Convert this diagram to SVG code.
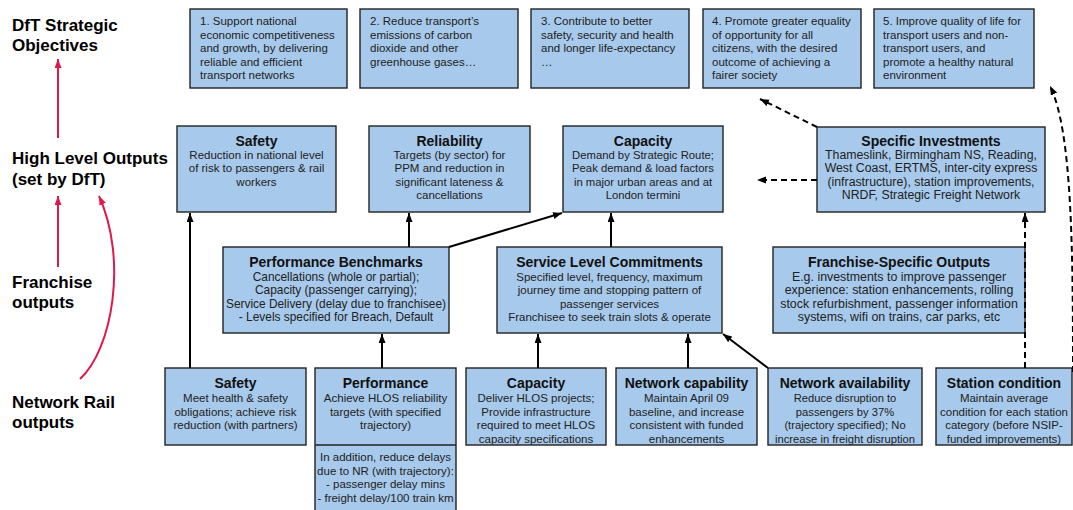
<svg xmlns="http://www.w3.org/2000/svg" width="1073" height="510" viewBox="0 0 1073 510">
  <style>
    .box { fill: #a7c9eb; stroke: #222; stroke-width: 1.4; }
    .lbl { font-family: "Liberation Sans", Arial, sans-serif; font-weight: bold; font-size: 17px; fill: #000; }
    .ttl { font-family: "Liberation Sans", Arial, sans-serif; font-weight: bold; font-size: 14px; fill: #111; text-anchor: middle; }
    .txt { font-family: "Liberation Sans", Arial, sans-serif; font-size: 11.5px; fill: #222; text-anchor: middle; }
    .obj { font-family: "Liberation Sans", Arial, sans-serif; font-size: 11.5px; fill: #222; }
    .con { fill: none; stroke: #000; stroke-width: 2; }
    .dash { fill: none; stroke: #000; stroke-width: 2; stroke-dasharray: 6 4; }
    .red { fill: none; stroke: #e2184c; stroke-width: 2; }
  </style>
  <defs>
    <marker id="ah" markerUnits="userSpaceOnUse" markerWidth="10" markerHeight="8" refX="9" refY="3.5" orient="auto">
      <path d="M0,0 L9,3.5 L0,7 z" fill="#000"/>
    </marker>
    <marker id="ahr" markerUnits="userSpaceOnUse" markerWidth="10" markerHeight="8" refX="9" refY="3.5" orient="auto">
      <path d="M0,0 L9,3.5 L0,7 z" fill="#e2184c"/>
    </marker>
  </defs>

  <rect width="1073" height="510" fill="#fff"/>

  <!-- tier labels -->
  <g id="tier-labels">
    <text class="lbl" x="12" y="31">DfT Strategic</text>
    <text class="lbl" x="12" y="51">Objectives</text>
    <text class="lbl" x="12" y="164">High Level Outputs</text>
    <text class="lbl" x="12" y="185">(set by DfT)</text>
    <text class="lbl" x="12" y="288">Franchise</text>
    <text class="lbl" x="12" y="308">outputs</text>
    <text class="lbl" x="12" y="408">Network Rail</text>
    <text class="lbl" x="12" y="428">outputs</text>
  </g>

  <!-- strategic objectives -->
  <g id="obj1">
    <rect class="box" x="190" y="9" width="157" height="79"/>
    <text class="obj" x="200" y="25">1. Support national</text>
    <text class="obj" x="200" y="38.5">economic competitiveness</text>
    <text class="obj" x="200" y="52">and growth, by delivering</text>
    <text class="obj" x="200" y="65.5">reliable and efficient</text>
    <text class="obj" x="200" y="79">transport networks</text>
  </g>
  <g id="obj2">
    <rect class="box" x="360" y="9" width="158" height="79"/>
    <text class="obj" x="370" y="25">2. Reduce transport’s</text>
    <text class="obj" x="370" y="38.5">emissions of carbon</text>
    <text class="obj" x="370" y="52">dioxide and other</text>
    <text class="obj" x="370" y="65.5">greenhouse gases…</text>
  </g>
  <g id="obj3">
    <rect class="box" x="531" y="9" width="158" height="79"/>
    <text class="obj" x="541" y="25">3. Contribute to better</text>
    <text class="obj" x="541" y="38.5">safety, security and health</text>
    <text class="obj" x="541" y="52">and longer life-expectancy</text>
    <text class="obj" x="541" y="65.5">…</text>
  </g>
  <g id="obj4">
    <rect class="box" x="703" y="9" width="158" height="79"/>
    <text class="obj" x="712" y="25">4. Promote greater equality</text>
    <text class="obj" x="712" y="38.5">of opportunity for all</text>
    <text class="obj" x="712" y="52">citizens, with the desired</text>
    <text class="obj" x="712" y="65.5">outcome of achieving a</text>
    <text class="obj" x="712" y="79">fairer society</text>
  </g>
  <g id="obj5">
    <rect class="box" x="874" y="9" width="160" height="79"/>
    <text class="obj" x="883" y="25">5. Improve quality of life for</text>
    <text class="obj" x="883" y="38.5">transport users and non-</text>
    <text class="obj" x="883" y="52">transport users, and</text>
    <text class="obj" x="883" y="65.5">promote a healthy natural</text>
    <text class="obj" x="883" y="79">environment</text>
  </g>

  <!-- high level outputs -->
  <g id="hl-safety">
    <rect class="box" x="177" y="126" width="159" height="86"/>
    <text class="ttl" x="256.5" y="145.5">Safety</text>
    <text class="txt" x="256.5" y="158.5">Reduction in national level</text>
    <text class="txt" x="256.5" y="172">of risk to passengers &amp; rail</text>
    <text class="txt" x="256.5" y="185.5">workers</text>
  </g>
  <g id="hl-reliability">
    <rect class="box" x="369" y="126" width="161" height="86"/>
    <text class="ttl" x="449.5" y="145.5">Reliability</text>
    <text class="txt" x="449.5" y="158.5">Targets (by sector) for</text>
    <text class="txt" x="449.5" y="172">PPM and reduction in</text>
    <text class="txt" x="449.5" y="185.5">significant lateness &amp;</text>
    <text class="txt" x="449.5" y="199">cancellations</text>
  </g>
  <g id="hl-capacity">
    <rect class="box" x="563" y="126" width="160" height="86"/>
    <text class="ttl" x="643" y="145.5">Capacity</text>
    <text class="txt" x="643" y="158.5" style="font-size:11.3px">Demand by Strategic Route;</text>
    <text class="txt" x="643" y="172" style="font-size:11.3px">Peak demand &amp; load factors</text>
    <text class="txt" x="643" y="185.5" style="font-size:11.3px">in major urban areas and at</text>
    <text class="txt" x="643" y="199" style="font-size:11.3px">London termini</text>
  </g>
  <g id="hl-investments">
    <rect class="box" x="817" y="127" width="228" height="85"/>
    <text class="ttl" x="931" y="145.5">Specific Investments</text>
    <text class="txt" x="931" y="158.5" style="font-size:12.3px">Thameslink, Birmingham NS, Reading,</text>
    <text class="txt" x="931" y="172" style="font-size:12.3px">West Coast, ERTMS, inter-city express</text>
    <text class="txt" x="931" y="185.5" style="font-size:12.3px">(infrastructure), station improvements,</text>
    <text class="txt" x="931" y="199" style="font-size:12.3px">NRDF, Strategic Freight Network</text>
  </g>

  <!-- franchise outputs -->
  <g id="fr-benchmarks">
    <rect class="box" x="223" y="247" width="226" height="86"/>
    <text class="ttl" x="336" y="267">Performance Benchmarks</text>
    <text class="txt" x="336" y="280.5" style="font-size:11.9px">Cancellations (whole or partial);</text>
    <text class="txt" x="336" y="294" style="font-size:11.9px">Capacity (passenger carrying);</text>
    <text class="txt" x="336" y="307.5" style="font-size:11.9px">Service Delivery (delay due to franchisee)</text>
    <text class="txt" x="336" y="321" style="font-size:11.9px">- Levels specified for Breach, Default</text>
  </g>
  <g id="fr-slc">
    <rect class="box" x="497" y="247" width="225" height="86"/>
    <text class="ttl" x="609.5" y="267">Service Level Commitments</text>
    <text class="txt" x="609.5" y="280.5">Specified level, frequency, maximum</text>
    <text class="txt" x="609.5" y="294">journey time and stopping pattern of</text>
    <text class="txt" x="609.5" y="307.5">passenger services</text>
    <text class="txt" x="609.5" y="321">Franchisee to seek train slots &amp; operate</text>
  </g>
  <g id="fr-specific">
    <rect class="box" x="773" y="247" width="252" height="86"/>
    <text class="ttl" x="899" y="267">Franchise-Specific Outputs</text>
    <text class="txt" x="899" y="280.5" style="font-size:12.4px">E.g. investments to improve passenger</text>
    <text class="txt" x="899" y="294" style="font-size:12.4px">experience: station enhancements, rolling</text>
    <text class="txt" x="899" y="307.5" style="font-size:12.4px">stock refurbishment, passenger information</text>
    <text class="txt" x="899" y="321" style="font-size:12.4px">systems, wifi on trains, car parks, etc</text>
  </g>

  <!-- network rail outputs -->
  <g id="nr-safety">
    <rect class="box" x="165" y="368" width="141" height="77"/>
    <text class="ttl" x="235.5" y="388">Safety</text>
    <text class="txt" x="235.5" y="402">Meet health &amp; safety</text>
    <text class="txt" x="235.5" y="415.5">obligations; achieve risk</text>
    <text class="txt" x="235.5" y="429">reduction (with partners)</text>
  </g>
  <g id="nr-performance">
    <rect class="box" x="315" y="368" width="141" height="150"/>
    <line x1="315" y1="445" x2="456" y2="445" stroke="#222" stroke-width="1.4"/>
    <text class="ttl" x="385.5" y="388">Performance</text>
    <text class="txt" x="385.5" y="402">Achieve HLOS reliability</text>
    <text class="txt" x="385.5" y="415.5">targets (with specified</text>
    <text class="txt" x="385.5" y="429">trajectory)</text>
    <text class="txt" x="385.5" y="461">In addition, reduce delays</text>
    <text class="txt" x="385.5" y="474.5">due to NR (with trajectory):</text>
    <text class="txt" x="385.5" y="488">- passenger delay mins</text>
    <text class="txt" x="385.5" y="501.5">- freight delay/100 train km</text>
  </g>
  <g id="nr-capacity">
    <rect class="box" x="466" y="368" width="140" height="77"/>
    <text class="ttl" x="536" y="388">Capacity</text>
    <text class="txt" x="536" y="402">Deliver HLOS projects;</text>
    <text class="txt" x="536" y="415.5">Provide infrastructure</text>
    <text class="txt" x="536" y="429">required to meet HLOS</text>
    <text class="txt" x="536" y="442.5">capacity specifications</text>
  </g>
  <g id="nr-capability">
    <rect class="box" x="616" y="368" width="141" height="77"/>
    <text class="ttl" x="686.5" y="388">Network capability</text>
    <text class="txt" x="686.5" y="402">Maintain April 09</text>
    <text class="txt" x="686.5" y="415.5">baseline, and increase</text>
    <text class="txt" x="686.5" y="429">consistent with funded</text>
    <text class="txt" x="686.5" y="442.5">enhancements</text>
  </g>
  <g id="nr-availability">
    <rect class="box" x="768" y="368" width="154" height="77"/>
    <text class="ttl" x="845" y="388">Network availability</text>
    <text class="txt" x="845" y="402" style="font-size:11.2px">Reduce disruption to</text>
    <text class="txt" x="845" y="415.5" style="font-size:11.2px">passengers by 37%</text>
    <text class="txt" x="845" y="429" style="font-size:11.2px">(trajectory specified); No</text>
    <text class="txt" x="845" y="442.5" style="font-size:11.2px">increase in freight disruption</text>
  </g>
  <g id="nr-station">
    <rect class="box" x="936" y="368" width="136" height="77"/>
    <text class="ttl" x="1004" y="388">Station condition</text>
    <text class="txt" x="1004" y="402">Maintain average</text>
    <text class="txt" x="1004" y="415.5">condition for each station</text>
    <text class="txt" x="1004" y="429">category (before NSIP-</text>
    <text class="txt" x="1004" y="442.5">funded improvements)</text>
  </g>

  <!-- connectors -->
  <g id="connectors">
    <path class="con" d="M190,368 V213" marker-end="url(#ah)"/>
    <path class="con" d="M382,368 V334" marker-end="url(#ah)"/>
    <path class="con" d="M409,247 V213" marker-end="url(#ah)"/>
    <path class="con" d="M449,247 L562,213" marker-end="url(#ah)"/>
    <path class="con" d="M611,247 V213" marker-end="url(#ah)"/>
    <path class="con" d="M538,368 V334" marker-end="url(#ah)"/>
    <path class="con" d="M688,368 V334" marker-end="url(#ah)"/>
    <path class="con" d="M768,368 L723,334" marker-end="url(#ah)"/>
    <path class="dash" d="M1025,368 V213" marker-end="url(#ah)"/>
    <path class="dash" d="M817,180 H757" marker-end="url(#ah)"/>
    <path class="dash" d="M817,127 L760,99" marker-end="url(#ah)"/>
    <path class="dash" d="M1073,372 C1073,250 1072,130 1050,86" marker-end="url(#ah)"/>
    <path class="red" d="M58,138 V59" marker-end="url(#ahr)"/>
    <path class="red" d="M58,267 V196" marker-end="url(#ahr)"/>
    <path class="red" d="M80,379 C112,350 128,260 99,196" marker-end="url(#ahr)"/>
  </g>
</svg>
